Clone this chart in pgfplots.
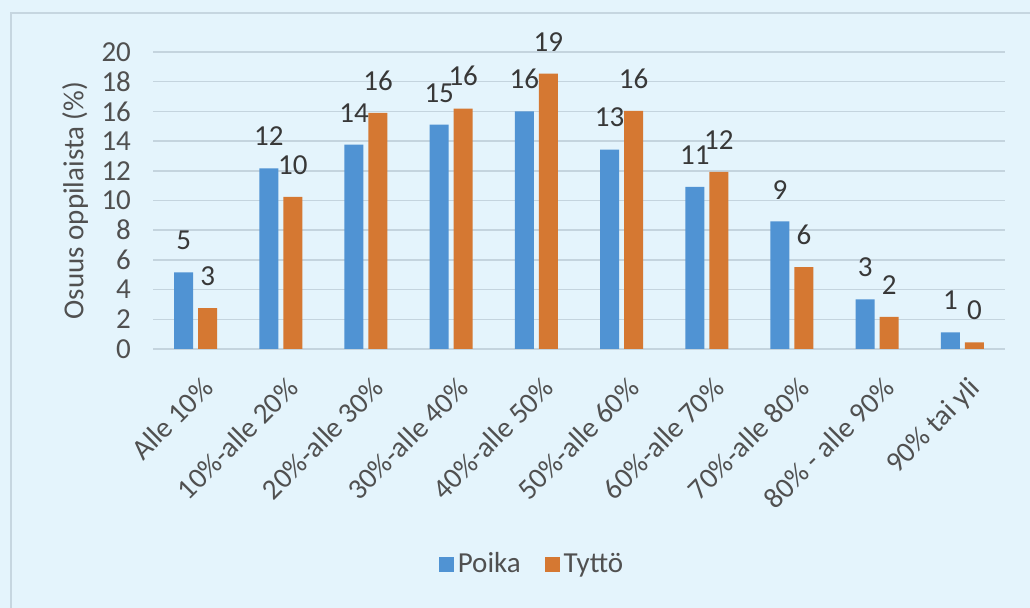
\documentclass[border=0pt]{standalone}
\usepackage{fontspec}
\setmainfont{Carlito}
\usepackage{pgfplots}
\usepackage{pgfplotstable}
\pgfplotsset{compat=1.18}

\definecolor{bg}{HTML}{E4F4FC}
\definecolor{framec}{HTML}{C6D6E0}
\definecolor{gridc}{HTML}{C4D4DE}
\definecolor{poika}{RGB}{80,147,211}
\definecolor{tytto}{RGB}{213,120,50}
\definecolor{tickc}{HTML}{505050}
\definecolor{labc}{HTML}{383838}

% osuus oppilaista (%), luokittain
\pgfplotstableread{
x poika tytto
0 5.16 2.76
1 12.17 10.25
2 13.77 15.90
3 15.11 16.19
4 16.00 18.54
5 13.43 16.03
6 10.92 11.93
7 8.59 5.52
8 3.34 2.17
9 1.12 0.45
}\osuus

\newcommand\chartfont{\fontsize{14.5}{17}\selectfont}

\begin{document}
\chartfont
\begin{tikzpicture}
\fill[bg] (0,0) rectangle (515pt,304pt);
\path[use as bounding box] (0,0) rectangle (515pt,304pt);
\begin{scope}
\clip (0,0) rectangle (515pt,304pt);
\draw[framec, line width=0.8pt] (5.5pt,-10pt) |- (540pt,297.5pt);
\end{scope}
\begin{axis}[
  at={(76.5pt,129.5pt)}, anchor=south west,
  width=426pt, height=148.5pt, scale only axis,
  ybar=2.5pt, bar width=9.5pt,
  xmin=-0.5, xmax=9.5, ymin=0, ymax=20,
  xtick={0,...,9},
  xticklabels={Alle 10\%, 10\%-alle 20\%, 20\%-alle 30\%, 30\%-alle 40\%,
    40\%-alle 50\%, 50\%-alle 60\%, 60\%-alle 70\%, 70\%-alle 80\%,
    80\% - alle 90\%, 90\% tai yli},
  ytick={0,2,...,20},
  axis line style={draw=none},
  major tick length=0pt,
  ymajorgrids,
  major grid style={gridc, line width=0.75pt},
  tick label style={font=\chartfont, text=tickc},
  /pgf/number format/assume math mode=true,
  xticklabel style={rotate=45, anchor=north east, inner sep=1pt, xshift=-6.5pt, yshift=-10pt},
  yticklabel style={xshift=-6pt},
  ylabel={Osuus oppilaista (\%)},
  ylabel style={at={(axis description cs:-0.0915,0.5)}, anchor=center,
    text=tickc, font=\chartfont},
  nodes near coords,
  nodes near coords style={font=\chartfont, text=labc, inner sep=0pt,
    yshift=11pt, /pgf/number format/fixed, /pgf/number format/precision=0,
    /pgf/number format/assume math mode=true},
  legend style={at={(0.446,-0.727)}, anchor=center, legend columns=2,
    draw=none, fill=none, font=\chartfont, text=tickc,
    /tikz/every even column/.append style={column sep=10pt}},
  legend cell align=left,
]
\addplot[fill=poika, draw=none,
  legend image code/.code={\fill[poika] (0pt,-3.75pt) rectangle (7.5pt,3.75pt);}]
  table[x=x, y=poika] {\osuus};
\addlegendentry{Poika}
\addplot[fill=tytto, draw=none,
  legend image code/.code={\fill[tytto] (0pt,-3.75pt) rectangle (7.5pt,3.75pt);}]
  table[x=x, y=tytto] {\osuus};
\addlegendentry{Tyttö}
\end{axis}
\end{tikzpicture}
\end{document}
